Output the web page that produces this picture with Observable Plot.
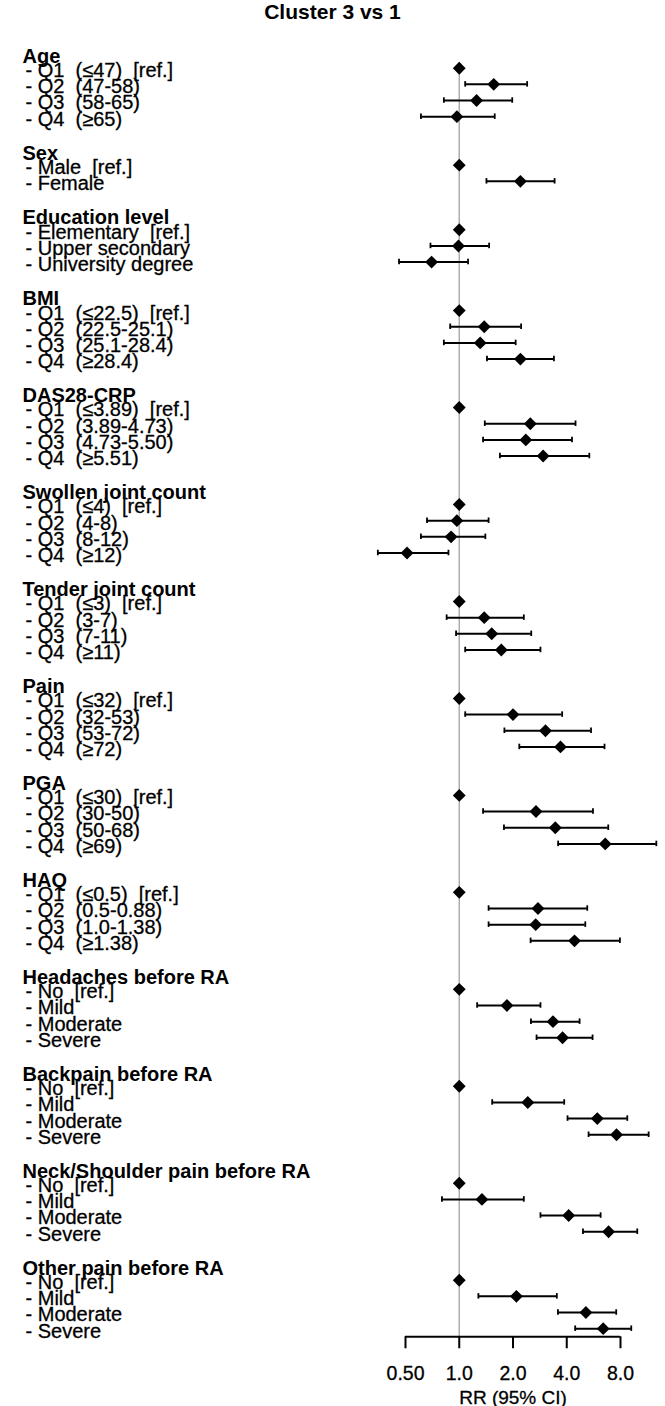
<!DOCTYPE html>
<html>
<head>
<meta charset="utf-8">
<script src="https://cdn.jsdelivr.net/npm/d3@7"></script>
<script src="https://cdn.jsdelivr.net/npm/@observablehq/plot@0.6"></script>
<style>
  html, body { margin: 0; padding: 0; background: #fff; }
  #title { height: 36px; line-height: 44px; text-align: center; font: bold 21px "Liberation Sans", Arial, sans-serif; color: #000; overflow: visible; }
  svg text { white-space: pre; }
  svg { display: block; }
</style>
</head>
<body>
<div id="title">Cluster 3 vs 1</div>
<div id="chart"></div>
<script>
// ---- data ----
const groups = [
  "Age", "Sex", "Education level", "BMI", "DAS28-CRP", "Swollen joint count",
  "Tender joint count", "Pain", "PGA", "HAQ", "Headaches before RA",
  "Backpain before RA", "Neck/Shoulder pain before RA", "Other pain before RA"
];
const itemLabels = [
  ["Q1  (≤47)  [ref.]", "Q2  (47-58)", "Q3  (58-65)", "Q4  (≥65)"],
  ["Male  [ref.]", "Female"],
  ["Elementary  [ref.]", "Upper secondary", "University degree"],
  ["Q1  (≤22.5)  [ref.]", "Q2  (22.5-25.1)", "Q3  (25.1-28.4)", "Q4  (≥28.4)"],
  ["Q1  (≤3.89)  [ref.]", "Q2  (3.89-4.73)", "Q3  (4.73-5.50)", "Q4  (≥5.51)"],
  ["Q1  (≤4)  [ref.]", "Q2  (4-8)", "Q3  (8-12)", "Q4  (≥12)"],
  ["Q1  (≤3)  [ref.]", "Q2  (3-7)", "Q3  (7-11)", "Q4  (≥11)"],
  ["Q1  (≤32)  [ref.]", "Q2  (32-53)", "Q3  (53-72)", "Q4  (≥72)"],
  ["Q1  (≤30)  [ref.]", "Q2  (30-50)", "Q3  (50-68)", "Q4  (≥69)"],
  ["Q1  (≤0.5)  [ref.]", "Q2  (0.5-0.88)", "Q3  (1.0-1.38)", "Q4  (≥1.38)"],
  ["No  [ref.]", "Mild", "Moderate", "Severe"],
  ["No  [ref.]", "Mild", "Moderate", "Severe"],
  ["No  [ref.]", "Mild", "Moderate", "Severe"],
  ["No  [ref.]", "Mild", "Moderate", "Severe"]
];
const rr = [
  [1, 1.56, 1.25, 0.97],
  [1, 2.20],
  [1, 0.99, 0.70],
  [1, 1.38, 1.31, 2.20],
  [1, 2.50, 2.36, 2.95],
  [1, 0.97, 0.90, 0.51],
  [1, 1.38, 1.52, 1.72],
  [1, 2.00, 3.04, 3.69],
  [1, 2.69, 3.45, 6.57],
  [1, 2.76, 2.68, 4.42],
  [1, 1.85, 3.35, 3.79],
  [1, 2.42, 5.93, 7.60],
  [1, 1.34, 4.10, 6.86],
  [1, 2.09, 5.12, 6.40]
];
const lower = [
  [null, 1.08, 0.82, 0.61],
  [null, 1.42],
  [null, 0.69, 0.46],
  [null, 0.89, 0.82, 1.43],
  [null, 1.39, 1.36, 1.69],
  [null, 0.66, 0.61, 0.35],
  [null, 0.85, 0.96, 1.08],
  [null, 1.08, 1.79, 2.17],
  [null, 1.36, 1.78, 3.58],
  [null, 1.46, 1.46, 2.51],
  [null, 1.26, 2.52, 2.71],
  [null, 1.53, 4.04, 5.30],
  [null, 0.80, 2.85, 4.93],
  [null, 1.28, 3.57, 4.46]
];
const upper = [
  [null, 2.40, 1.98, 1.58],
  [null, 3.42],
  [null, 1.47, 1.12],
  [null, 2.22, 2.07, 3.39],
  [null, 4.48, 4.28, 5.35],
  [null, 1.46, 1.40, 0.87],
  [null, 2.30, 2.53, 2.85],
  [null, 3.77, 5.47, 6.51],
  [null, 5.61, 6.83, 12.7],
  [null, 5.21, 5.08, 7.94],
  [null, 2.85, 4.72, 5.58],
  [null, 3.87, 8.73, 11.5],
  [null, 2.30, 6.19, 9.93],
  [null, 3.52, 7.57, 9.19]
];
const xTicks = [0.5, 1, 2, 4, 8];
const xTickLabels = ["0.50", "1.0", "2.0", "4.0", "8.0"];
const xAxisLabel = "RR (95% CI)";

// ---- layout rows (header row + items + blank row per group) ----
const points = [];
const labels = [];
let row = -1;
groups.forEach((g, gi) => {
  const first = row + 1;
  labels.push({row: first - 0.73, text: g, header: true});
  itemLabels[gi].forEach((lab, ii) => {
    row += 1;
    labels.push({row, text: "- " + lab, header: false});
    points.push({row, rr: rr[gi][ii], lo: lower[gi][ii], hi: upper[gi][ii]});
  });
  row += 2; // blank row + next header row
});
const lastRow = points[points.length - 1].row;
const axisRow = lastRow + 0.5;
const ci = points.filter(d => d.lo != null);

const rowPx = 16.16;
const y0 = 31.7;
const font = '"Liberation Sans", Arial, Helvetica, sans-serif';

const chart = Plot.plot({
  width: 665,
  height: 1370,
  marginLeft: 405,
  marginRight: 45,
  marginTop: 20,
  marginBottom: 40,
  style: {fontFamily: font, background: "white", color: "black", overflow: "visible"},
  x: {type: "log", domain: [xTicks[0], xTicks[xTicks.length - 1]], axis: null},
  y: {domain: [0, lastRow], range: [y0, y0 + lastRow * rowPx], axis: null},
  marks: [
    Plot.ruleX([1], {y1: -0.35, y2: axisRow, stroke: "#adadad", strokeWidth: 1.5}),
    Plot.ruleY(ci, {y: "row", x1: "lo", x2: "hi", stroke: "black", strokeWidth: 2}),
    Plot.ruleX(ci, {x: "lo", y1: d => d.row - 0.17, y2: d => d.row + 0.17, stroke: "black", strokeWidth: 1.8}),
    Plot.ruleX(ci, {x: "hi", y1: d => d.row - 0.17, y2: d => d.row + 0.17, stroke: "black", strokeWidth: 1.8}),
    Plot.dot(points, {x: "rr", y: "row", symbol: "diamond2", r: 5.8, fill: "black", stroke: "none"}),
    // labels
    Plot.text(labels.filter(d => d.header), {y: "row", text: "text", frameAnchor: "left", dx: -383, textAnchor: "start", lineAnchor: "middle", fontSize: 20, fontWeight: "bold", fill: "black"}),
    Plot.text(labels.filter(d => !d.header), {y: "row", text: "text", frameAnchor: "left", dx: -380, dy: 2.5, textAnchor: "start", lineAnchor: "middle", fontSize: 20, fill: "black", stroke: "black", strokeWidth: 0.3}),
    // x axis
    Plot.ruleY([axisRow], {y: d => d, x1: xTicks[0], x2: xTicks[xTicks.length - 1], stroke: "black", strokeWidth: 2}),
    Plot.ruleX(xTicks, {x: d => d, y1: axisRow, y2: axisRow + 12 / rowPx, stroke: "black", strokeWidth: 2}),
    Plot.text(xTicks, {x: d => d, y: () => axisRow, text: (d, i) => xTickLabels[i], dy: 36.7, lineAnchor: "middle", fontSize: 19.5, fill: "black", stroke: "black", strokeWidth: 0.3}),
    Plot.text([xAxisLabel], {x: () => Math.sqrt(xTicks[0] * xTicks[xTicks.length - 1]), y: () => axisRow, text: d => d, dy: 60.7, lineAnchor: "middle", fontSize: 19, fill: "black", stroke: "black", strokeWidth: 0.3})
  ]
});
document.getElementById("chart").appendChild(chart);
</script>
</body>
</html>
